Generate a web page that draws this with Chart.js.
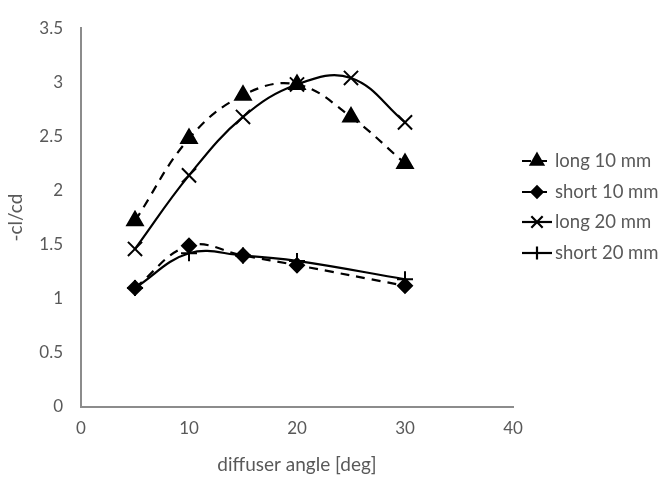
<!DOCTYPE html>
<html>
<head>
<meta charset="utf-8">
<script src="https://cdn.jsdelivr.net/npm/chart.js@4/dist/chart.umd.min.js"></script>
<style>
  html, body { margin: 0; padding: 0; background: #fff; }
  #wrap { width: 660px; height: 480px; }
</style>
</head>
<body>
<div id="wrap"><canvas id="c" width="660" height="480"></canvas></div>
<script>
// ---- data ----
const angles = [5, 10, 15, 20, 25, 30];
const long10 = [1.72, 2.48, 2.88, 2.98, 2.68, 2.25];
const long20 = [1.46, 2.14, 2.68, 2.98, 3.04, 2.63];
const shortAngles = [5, 10, 15, 20, 30];
const short10 = [1.10, 1.49, 1.40, 1.31, 1.12];
const short20 = [1.10, 1.42, 1.40, 1.35, 1.18];
const seriesNames = ['long 10 mm', 'short 10 mm', 'long 20 mm', 'short 20 mm'];
const xTicks = [0, 10, 20, 30, 40];
const yTicks = [0, 0.5, 1, 1.5, 2, 2.5, 3, 3.5];

const toPts = (xs, ys) => xs.map((x, i) => ({ x: x, y: ys[i] }));
const FONT = 'Lato, "Open Sans", sans-serif';
const GRAY = '#595959';

const datasets = [
  { label: seriesNames[0], data: toPts(angles, long10), borderDash: [9, 7],
    pointStyle: 'triangle', pointRadius: 9 },
  { label: seriesNames[1], data: toPts(shortAngles, short10), borderDash: [9, 7],
    pointStyle: 'rectRot', pointRadius: 7 },
  { label: seriesNames[2], data: toPts(angles, long20), borderDash: [],
    pointStyle: 'crossRot', pointRadius: 10 },
  { label: seriesNames[3], data: toPts(shortAngles, short20), borderDash: [],
    pointStyle: 'cross', pointRadius: 8 }
].map(d => Object.assign({
  borderColor: '#000', backgroundColor: '#000', pointBackgroundColor: '#000',
  pointBorderColor: '#000', pointBorderWidth: 2, borderWidth: 2.2,
  tension: 0.4, showLine: true, fill: false
}, d));

const legendPlugin = {
  id: 'customLegend',
  afterDraw(chart) {
    const ctx = chart.ctx;
    const ys = [161, 192, 222, 253];
    ctx.save();
    chart.data.datasets.forEach((ds, i) => {
      const y = ys[i];
      ctx.strokeStyle = '#000';
      ctx.lineWidth = 2.2;
      ctx.setLineDash(ds.borderDash || []);
      ctx.beginPath();
      ctx.moveTo(522, y);
      ctx.lineTo(552, y);
      ctx.stroke();
      ctx.setLineDash([]);
      ctx.fillStyle = '#000';
      Chart.helpers.drawPoint(ctx, {
        pointStyle: ds.pointStyle, radius: ds.pointRadius * 0.8,
        rotation: 0, borderWidth: 2
      }, 537, y);
      ctx.fillStyle = GRAY;
      ctx.font = '18.5px ' + FONT;
      ctx.textBaseline = 'middle';
      ctx.textAlign = 'left';
      ctx.fillText(ds.label, 555, y);
    });
    ctx.restore();
  }
};

new Chart(document.getElementById('c'), {
  type: 'scatter',
  data: { datasets: datasets },
  plugins: [legendPlugin],
  options: {
    responsive: false,
    animation: false,
    layout: { padding: { left: 0, right: 147, top: 13, bottom: 0 } },
    plugins: { legend: { display: false }, tooltip: { enabled: false } },
    scales: {
      x: {
        type: 'linear', min: 0, max: 40,
        afterBuildTicks: s => { s.ticks = xTicks.map(v => ({ value: v })); },
        grid: { display: false, drawTicks: false },
        border: { color: '#8c8c8c', width: 2 },
        ticks: { color: GRAY, font: { family: FONT, size: 17 }, padding: 11, maxRotation: 0,
                 callback: v => String(v) },
        title: { display: true, text: 'diffuser angle [deg]', color: GRAY,
                 font: { family: FONT, size: 19 }, padding: { top: 6 } },
        afterFit: s => { s.height = 73; }
      },
      y: {
        type: 'linear', min: 0, max: 3.5,
        afterBuildTicks: s => { s.ticks = yTicks.map(v => ({ value: v })); },
        grid: { display: false, drawTicks: false },
        border: { color: '#8c8c8c', width: 2 },
        ticks: { color: GRAY, font: { family: FONT, size: 17 }, padding: 18,
                 callback: v => String(v) },
        title: { display: true, text: '-cl/cd', color: GRAY,
                 font: { family: FONT, size: 19 }, padding: { bottom: 2 } },
        afterFit: s => { s.width = 81; }
      }
    }
  }
});
</script>
</body>
</html>
